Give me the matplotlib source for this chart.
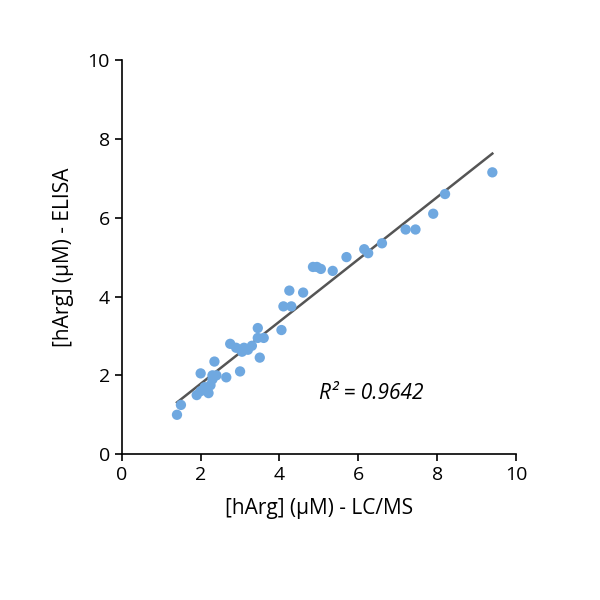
import numpy as np
import matplotlib
matplotlib.use("Agg")
import matplotlib.pyplot as plt

plt.rcParams["font.family"] = "Open Sans"

lcms = [1.4, 1.5, 1.9, 2.0, 2.0, 2.1, 2.2, 2.25, 2.3, 2.3, 2.35, 2.4, 2.65, 2.75, 2.9,
        3.0, 3.05, 3.1, 3.2, 3.3, 3.45, 3.45, 3.5, 3.6, 4.05, 4.1, 4.25, 4.3, 4.6, 4.85,
        4.95, 5.05, 5.35, 5.7, 6.15, 6.25, 6.6, 7.2, 7.45, 7.9, 8.2, 9.4]
elisa = [1.0, 1.25, 1.5, 2.05, 1.6, 1.7, 1.55, 1.75, 1.9, 2.0, 2.35, 2.0, 1.95, 2.8, 2.7,
         2.1, 2.6, 2.7, 2.65, 2.75, 3.2, 2.95, 2.45, 2.95, 3.15, 3.75, 4.15, 3.75, 4.1, 4.75,
         4.75, 4.7, 4.65, 5.0, 5.2, 5.1, 5.35, 5.7, 5.7, 6.1, 6.6, 7.15]

x = np.array(lcms)
y = np.array(elisa)
slope, icpt = np.polyfit(x, y, 1)

fig = plt.figure(figsize=(6, 6), dpi=100)
ax = fig.add_axes([0.203, 0.243, 0.657, 0.657])
xl = np.array([x.min(), x.max()])
ax.plot(xl, slope * xl + icpt, color="#555555", lw=1.8, zorder=2)
ax.scatter(x, y, s=55, color="#6fa8e0", edgecolors="none", zorder=3)

ax.set_xlim(0, 10)
ax.set_ylim(0, 10)
ax.set_xticks(range(0, 11, 2))
ax.set_yticks(range(0, 11, 2))
for s in ["top", "right"]:
    ax.spines[s].set_visible(False)
for s in ["left", "bottom"]:
    ax.spines[s].set_linewidth(1.2)
ax.tick_params(direction="out", length=5, width=1.2, labelsize=14)
ax.set_xlabel("[hArg] (μM) - LC/MS", fontsize=15, labelpad=10)
ax.set_ylabel("[hArg] (μM) - ELISA", fontsize=15, labelpad=10)
ax.text(5, 1.4, "R² = 0.9642", fontsize=15, style="italic")

fig.savefig("out.png")
